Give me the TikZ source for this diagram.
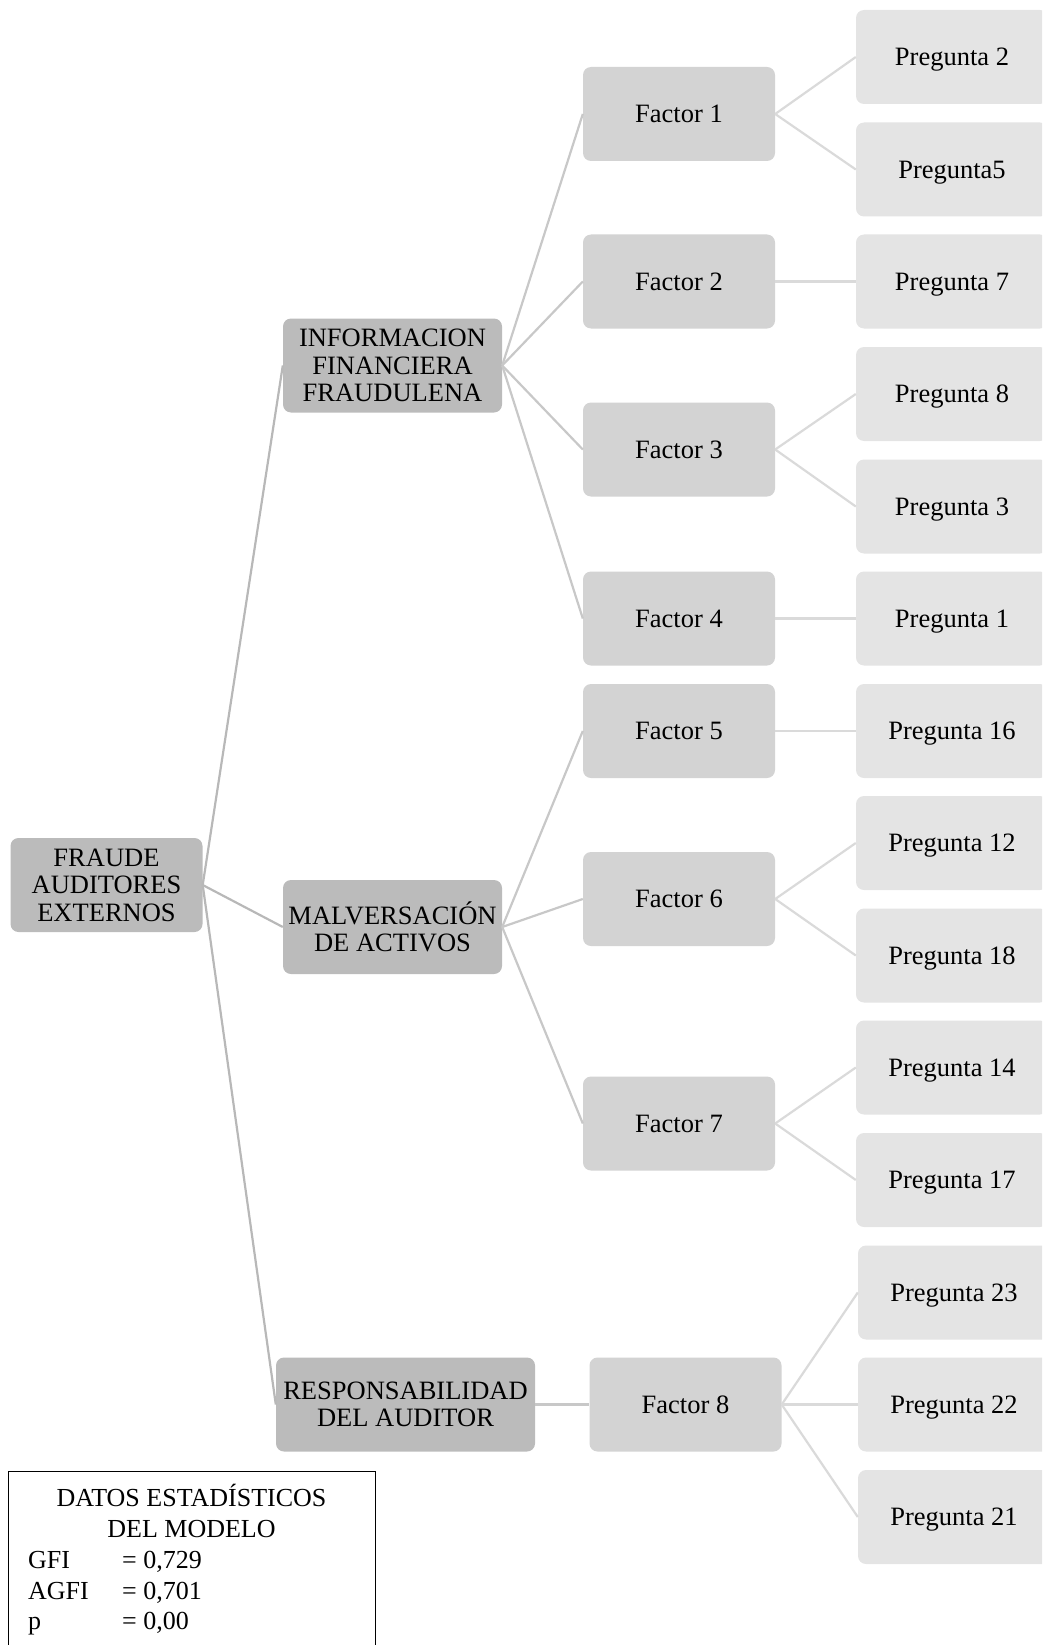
\documentclass[tikz,border=0pt]{standalone}
\usepackage{fontspec}
\setmainfont{Liberation Serif}
\definecolor{grisA}{HTML}{BBBBBB}
\definecolor{grisB}{HTML}{D3D3D3}
\definecolor{grisC}{HTML}{E4E4E4}
\definecolor{lineaA}{HTML}{B8B8B8}
\definecolor{lineaB}{HTML}{C8C8C8}
\definecolor{lineaC}{HTML}{DADADA}

\begin{document}
\begin{tikzpicture}[x=1pt,y=-1pt,
  caja/.style={rounded corners=8pt, minimum height=94pt, inner sep=0pt, align=center,
    font=\fontsize{26.5}{27.5}\selectfont},
  nivel0/.style={caja, fill=grisA, minimum width=192pt},
  nivel1/.style={caja, fill=grisA, minimum width=219pt},
  factor/.style={caja, fill=grisB, minimum width=192pt, text height=20pt, text depth=2.5pt},
  pregunta/.style={caja, fill=grisC, minimum width=192pt, text height=20pt, text depth=2.5pt},
  ramaA/.style={draw=lineaA, line width=2.2pt},
  ramaB/.style={draw=lineaB, line width=2.2pt},
  ramaC/.style={draw=lineaC, line width=2.2pt},
  dato/.style={inner sep=0pt, font=\fontsize{26}{30}\selectfont}]
\useasboundingbox (0,0) rectangle (1042,1645);
\clip (0,0) rectangle (1042,1645);

\node[nivel0] (fraude) at (106.5,885) {FRAUDE\\AUDITORES\\EXTERNOS};
\node[nivel1] (info) at (392.5,365.5) {INFORMACION\\FINANCIERA\\FRAUDULENA};
\node[nivel1] (malv) at (392.5,927) {MALVERSACIÓN\\DE ACTIVOS};
\node[nivel1, minimum width=259pt] (resp) at (405.5,1404.5) {RESPONSABILIDAD\\DEL AUDITOR};

\node[factor] (f1) at (679,114) {Factor 1};
\node[factor] (f2) at (679,281.5) {Factor 2};
\node[factor] (f3) at (679,449.5) {Factor 3};
\node[factor] (f4) at (679,618.5) {Factor 4};
\node[factor] (f5) at (679,731) {Factor 5};
\node[factor] (f6) at (679,899) {Factor 6};
\node[factor] (f7) at (679,1123.5) {Factor 7};
\node[factor] (f8) at (685.5,1404.5) {Factor 8};

\node[pregunta] (p2) at (952,57) {Pregunta 2};
\node[pregunta] (p5) at (952,169.5) {Pregunta5};
\node[pregunta] (p7) at (952,281.5) {Pregunta 7};
\node[pregunta] (p8) at (952,394) {Pregunta 8};
\node[pregunta] (p3) at (952,506.5) {Pregunta 3};
\node[pregunta] (p1) at (952,618.5) {Pregunta 1};
\node[pregunta] (p16) at (952,731) {Pregunta 16};
\node[pregunta] (p12) at (952,843) {Pregunta 12};
\node[pregunta] (p18) at (952,955.5) {Pregunta 18};
\node[pregunta] (p14) at (952,1067.5) {Pregunta 14};
\node[pregunta] (p17) at (952,1180) {Pregunta 17};
\node[pregunta] (p23) at (954,1292.5) {Pregunta 23};
\node[pregunta] (p22) at (954,1404.5) {Pregunta 22};
\node[pregunta] (p21) at (954,1517) {Pregunta 21};

\draw[ramaA] (fraude.east) -- (info.west);
\draw[ramaA] (fraude.east) -- (malv.west);
\draw[ramaA] (fraude.east) -- (resp.west);

\draw[ramaB] (info.east) -- (f1.west);
\draw[ramaB] (info.east) -- (f2.west);
\draw[ramaB] (info.east) -- (f3.west);
\draw[ramaB] (info.east) -- (f4.west);
\draw[ramaB] (malv.east) -- (f5.west);
\draw[ramaB] (malv.east) -- (f6.west);
\draw[ramaB] (malv.east) -- (f7.west);
\draw[ramaB] (resp.east) -- (f8.west);

\draw[ramaC] (f1.east) -- (p2.west);
\draw[ramaC] (f1.east) -- (p5.west);
\draw[ramaC] (f2.east) -- (p7.west);
\draw[ramaC] (f3.east) -- (p8.west);
\draw[ramaC] (f3.east) -- (p3.west);
\draw[ramaC] (f4.east) -- (p1.west);
\draw[ramaC] (f5.east) -- (p16.west);
\draw[ramaC] (f6.east) -- (p12.west);
\draw[ramaC] (f6.east) -- (p18.west);
\draw[ramaC] (f7.east) -- (p14.west);
\draw[ramaC] (f7.east) -- (p17.west);
\draw[ramaC] (f8.east) -- (p23.west);
\draw[ramaC] (f8.east) -- (p22.west);
\draw[ramaC] (f8.east) -- (p21.west);

\draw[black, line width=1pt] (8,1700) -- (8,1471) -- (375,1471) -- (375,1700);
\node[dato, anchor=base] (datos) at (191.5,1506) {DATOS ESTADÍSTICOS};
\node[dato, anchor=base] (modelo) at (191.5,1537) {DEL MODELO};
\node[dato, anchor=base west] (gfi) at (28,1568) {GFI};
\node[dato, anchor=base west] (gfiv) at (122,1568) {= 0,729};
\node[dato, anchor=base west] (agfi) at (28,1599) {AGFI};
\node[dato, anchor=base west] (agfiv) at (122,1599) {= 0,701};
\node[dato, anchor=base west] (pv) at (28,1629) {p};
\node[dato, anchor=base west] (pvv) at (122,1629) {= 0,00};
\end{tikzpicture}
\end{document}
